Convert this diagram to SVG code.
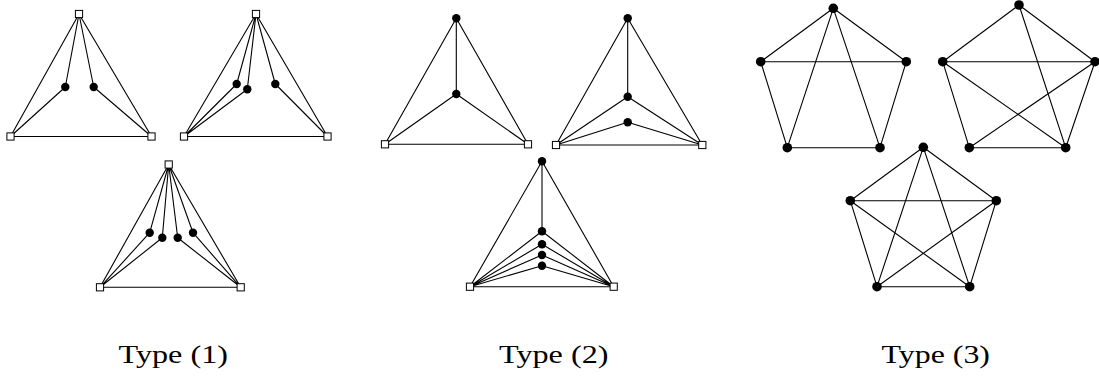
<svg xmlns="http://www.w3.org/2000/svg" width="1099" height="376" viewBox="0 0 1099 376">
<style>
.e{stroke:#000;stroke-width:1.1;fill:none}
.sq{fill:#fff;stroke:#000;stroke-width:1}
.dt{fill:#000}
.lb{font-family:"Liberation Serif","DejaVu Serif",serif;font-size:26px;fill:#000}
</style>
<defs>
<rect id="S" x="-3.6" y="-3.6" width="7.2" height="7.2" class="sq"/>
<circle id="D" r="4.2" class="dt"/>
<circle id="B" r="4.8" class="dt"/>
</defs>
<rect width="1099" height="376" fill="#fff"/>
<g id="connectors">
<!-- 1a -->
<path class="e" d="M79,14L10.5,136.5M79,14L151.5,136.5M10.5,136.5L151.5,136.5M79,14L65.3,87M79,14L93.7,87M65.3,87L10.5,136.5M93.7,87L151.5,136.5"/>
<!-- 1b -->
<path class="e" d="M256,14L184,136.5M256,14L327.5,136.5M184,136.5L327.5,136.5M256,14L236.7,84M256,14L247.3,89.3M256,14L275.3,84M236.7,84L184,136.5M247.3,89.3L184,136.5M275.3,84L327.5,136.5"/>
<!-- 1c -->
<path class="e" d="M168.7,164.5L100,287.3M168.7,164.5L240.7,287.3M100,287.3L240.7,287.3M168.7,164.5L149.7,232.7M168.7,164.5L162.3,237.7M168.7,164.5L177.7,237.7M168.7,164.5L193,232.7M149.7,232.7L100,287.3M162.3,237.7L100,287.3M177.7,237.7L240.7,287.3M193,232.7L240.7,287.3"/>
<!-- 2a -->
<path class="e" d="M456.3,18.3L385,144.3M456.3,18.3L528,144.3M456.3,18.3L456.3,94M456.3,94L385,144.3M456.3,94L528,144.3M385,144.3L528,144.3"/>
<!-- 2b -->
<path class="e" d="M627.7,18.3L556,145M627.7,18.3L702.3,145M627.7,18.3L627.7,96.7M627.7,96.7L556,145M627.7,96.7L702.3,145M627.7,122.3L556,145M627.7,122.3L702.3,145M556,145L702.3,145"/>
<!-- 2c -->
<path class="e" d="M542,161.3L470,286.7M542,161.3L613.7,286.7M542,161.3L542,231.3M542,231.3L470,286.7M542,231.3L613.7,286.7M542,244.3L470,286.7M542,244.3L613.7,286.7M542,255L470,286.7M542,255L613.7,286.7M542,265.7L470,286.7M542,265.7L613.7,286.7M470,286.7L613.7,286.7"/>
<!-- 3a -->
<path class="e" d="M833.3,8.3L760.7,61.7M833.3,8.3L906.3,61.7M760.7,61.7L906.3,61.7M760.7,61.7L787.3,147.7M906.3,61.7L880,147.7M787.3,147.7L880,147.7M833.3,8.3L787.3,147.7M833.3,8.3L880,147.7"/>
<!-- 3b -->
<path class="e" d="M1019,5L942.7,61.7M1019,5L1095,61.7M942.7,61.7L1095,61.7M942.7,61.7L969.3,147.7M1095,61.7L1065.7,147.7M969.3,147.7L1065.7,147.7M1019,5L1065.7,147.7M942.7,61.7L1065.7,147.7M1095,61.7L969.3,147.7"/>
<!-- 3c -->
<path class="e" d="M923.3,147.3L850.3,200.7M923.3,147.3L996.3,200.7M850.3,200.7L996.3,200.7M850.3,200.7L877,286.7M996.3,200.7L969.7,286.7M877,286.7L969.7,286.7M923.3,147.3L877,286.7M923.3,147.3L969.7,286.7M850.3,200.7L969.7,286.7M996.3,200.7L877,286.7"/>
</g>
<g id="n1a_t"><use href="#S" x="79" y="14"/></g>
<g id="n1a_l"><use href="#S" x="10.5" y="136.5"/></g>
<g id="n1a_r"><use href="#S" x="151.5" y="136.5"/></g>
<g id="n1a_d1"><use href="#D" x="65.3" y="87"/></g>
<g id="n1a_d2"><use href="#D" x="93.7" y="87"/></g>
<g id="n1b_t"><use href="#S" x="256" y="14"/></g>
<g id="n1b_l"><use href="#S" x="184" y="136.5"/></g>
<g id="n1b_r"><use href="#S" x="327.5" y="136.5"/></g>
<g id="n1b_d1"><use href="#D" x="236.7" y="84"/></g>
<g id="n1b_d2"><use href="#D" x="247.3" y="89.3"/></g>
<g id="n1b_d3"><use href="#D" x="275.3" y="84"/></g>
<g id="n1c_t"><use href="#S" x="168.7" y="164.5"/></g>
<g id="n1c_l"><use href="#S" x="100" y="287.3"/></g>
<g id="n1c_r"><use href="#S" x="240.7" y="287.3"/></g>
<g id="n1c_d1"><use href="#D" x="149.7" y="232.7"/></g>
<g id="n1c_d2"><use href="#D" x="162.3" y="237.7"/></g>
<g id="n1c_d3"><use href="#D" x="177.7" y="237.7"/></g>
<g id="n1c_d4"><use href="#D" x="193" y="232.7"/></g>
<g id="n2a_t"><use href="#D" x="456.3" y="18.3"/></g>
<g id="n2a_m"><use href="#D" x="456.3" y="94"/></g>
<g id="n2a_l"><use href="#S" x="385" y="144.3"/></g>
<g id="n2a_r"><use href="#S" x="528" y="144.3"/></g>
<g id="n2b_t"><use href="#D" x="627.7" y="18.3"/></g>
<g id="n2b_m"><use href="#D" x="627.7" y="96.7"/></g>
<g id="n2b_n"><use href="#D" x="627.7" y="122.3"/></g>
<g id="n2b_l"><use href="#S" x="556" y="145"/></g>
<g id="n2b_r"><use href="#S" x="702.3" y="145"/></g>
<g id="n2c_t"><use href="#D" x="542" y="161.3"/></g>
<g id="n2c_a"><use href="#D" x="542" y="231.3"/></g>
<g id="n2c_b"><use href="#D" x="542" y="244.3"/></g>
<g id="n2c_c"><use href="#D" x="542" y="255"/></g>
<g id="n2c_d"><use href="#D" x="542" y="265.7"/></g>
<g id="n2c_l"><use href="#S" x="470" y="286.7"/></g>
<g id="n2c_r"><use href="#S" x="613.7" y="286.7"/></g>
<g id="n3a_t"><use href="#B" x="833.3" y="8.3"/></g>
<g id="n3a_l"><use href="#B" x="760.7" y="61.7"/></g>
<g id="n3a_r"><use href="#B" x="906.3" y="61.7"/></g>
<g id="n3a_bl"><use href="#B" x="787.3" y="147.7"/></g>
<g id="n3a_br"><use href="#B" x="880" y="147.7"/></g>
<g id="n3b_t"><use href="#B" x="1019" y="5"/></g>
<g id="n3b_l"><use href="#B" x="942.7" y="61.7"/></g>
<g id="n3b_r"><use href="#B" x="1095" y="61.7"/></g>
<g id="n3b_bl"><use href="#B" x="969.3" y="147.7"/></g>
<g id="n3b_br"><use href="#B" x="1065.7" y="147.7"/></g>
<g id="n3c_t"><use href="#B" x="923.3" y="147.3"/></g>
<g id="n3c_l"><use href="#B" x="850.3" y="200.7"/></g>
<g id="n3c_r"><use href="#B" x="996.3" y="200.7"/></g>
<g id="n3c_bl"><use href="#B" x="877" y="286.7"/></g>
<g id="n3c_br"><use href="#B" x="969.7" y="286.7"/></g>
<g id="labels">
<text class="lb" x="118.5" y="362.5" textLength="109.5" lengthAdjust="spacingAndGlyphs">Type (1)</text>
<text class="lb" x="499" y="362.5" textLength="109.5" lengthAdjust="spacingAndGlyphs">Type (2)</text>
<text class="lb" x="881.5" y="362.5" textLength="108.5" lengthAdjust="spacingAndGlyphs">Type (3)</text>
</g>
</svg>
